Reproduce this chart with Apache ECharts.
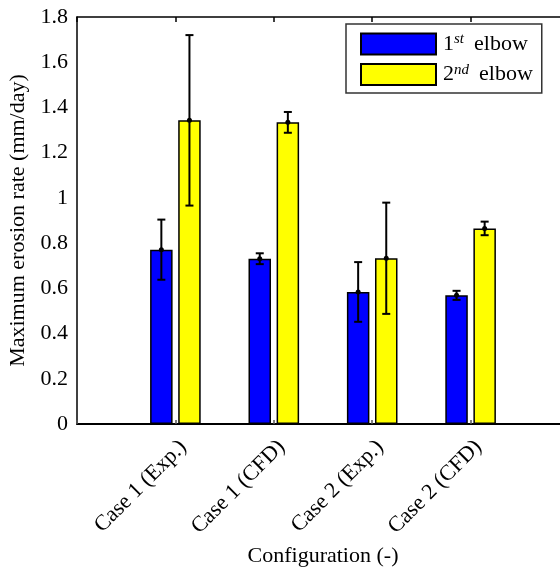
<!DOCTYPE html>
<html>
<head>
<meta charset="utf-8">
<script src="https://cdn.jsdelivr.net/npm/echarts@6/dist/echarts.min.js"></script>
<style>
  html, body { margin: 0; padding: 0; background: #fff; }
  #chart { width: 560px; height: 569px; }
</style>
</head>
<body>
<div id="chart"></div>
<script>
// data
const categories = ['Case 1 (Exp.)', 'Case 1 (CFD)', 'Case 2 (Exp.)', 'Case 2 (CFD)']
const elbow1 = [0.771, 0.731, 0.584, 0.569]
const elbow1Err = [0.133, 0.024, 0.132, 0.020]
const elbow2 = [1.343, 1.334, 0.733, 0.865]
const elbow2Err = [0.377, 0.046, 0.246, 0.030]
const seriesNames = ['1st elbow', '2nd elbow']
const yTicks = [0, 0.2, 0.4, 0.6, 0.8, 1, 1.2, 1.4, 1.6, 1.8]

const font = "'Liberation Serif', 'DejaVu Serif', serif"
const fs = 22
const barW = 22.5
const gap = 5.6

// pad one empty slot on each side so the categories sit at 1..4 of a 0..5 axis
const xCats = [''].concat(categories, [''])
const pad = arr => [null].concat(arr, [null])

const errData = (vals, errs) => vals.map((v, i) => [i + 1, v - errs[i], v + errs[i], v])

const errorSeries = (name, vals, errs, side) => ({
    type: 'custom',
    name: name,
    z: 10,
    data: errData(vals, errs),
    renderItem: (params, api) => {
        const idx = api.value(0)
        const lo = api.coord([idx, api.value(1)])
        const hi = api.coord([idx, api.value(2)])
        const mid = api.coord([idx, api.value(3)])
        const x = lo[0] + side * (barW + gap) / 2
        const cap = 4
        const st = { stroke: '#000', lineWidth: 2 }
        return {
            type: 'group',
            children: [
                { type: 'line', shape: { x1: x, y1: lo[1], x2: x, y2: hi[1] }, style: st },
                { type: 'line', shape: { x1: x - cap, y1: lo[1], x2: x + cap, y2: lo[1] }, style: st },
                { type: 'line', shape: { x1: x - cap, y1: hi[1], x2: x + cap, y2: hi[1] }, style: st },
                { type: 'circle', shape: { cx: x, cy: mid[1], r: 2.5 }, style: { fill: '#000' } }
            ]
        }
    }
})

const chart = echarts.init(document.getElementById('chart'))

const option = {
    backgroundColor: '#fff',
    animation: false,
    grid: { left: 77, top: 17, right: -9, bottom: 145, containLabel: false, outerBoundsMode: 'none' },
    legend: {
        data: seriesNames,
        orient: 'vertical',
        left: 346,
        top: 24,
        itemWidth: 75,
        itemHeight: 21,
        itemGap: 7,
        padding: [8, 9, 7, 14],
        borderColor: '#333',
        borderWidth: 1.5,
        backgroundColor: '#fff',
        icon: 'rect',
        formatter: name => name === seriesNames[0]
            ? '{b|1}{s|st}{e|elbow}'
            : '{b|2}{s|nd}{e|elbow}',
        textStyle: {
            color: '#000',
            fontFamily: font,
            fontSize: fs,
            padding: [0, 0, 0, 2],
            rich: {
                b: { fontFamily: font, fontSize: fs, color: '#000', lineHeight: 24 },
                s: { fontFamily: font, fontSize: 15, fontStyle: 'italic', color: '#000', verticalAlign: 'top', lineHeight: 24 },
                e: { fontFamily: font, fontSize: fs, color: '#000', lineHeight: 24, padding: [0, 0, 0, 10] }
            }
        }
    },
    xAxis: [
        {
            type: 'category',
            data: xCats,
            boundaryGap: false,
            name: 'Configuration (-)',
            nameLocation: 'middle',
            nameGap: 119,
            nameTextStyle: { fontFamily: font, fontSize: fs, color: '#000' },
            axisLine: { lineStyle: { color: '#000', width: 2 } },
            axisTick: { inside: true, length: 4, lineStyle: { color: '#555', width: 1.5 } },
            axisLabel: {
                rotate: 45,
                margin: 12,
                interval: 0,
                verticalAlign: 'top',
                fontFamily: font,
                fontSize: fs,
                color: '#000'
            },
            splitLine: { show: false }
        },
        {
            type: 'category',
            data: xCats,
            boundaryGap: false,
            position: 'top',
            axisLine: { lineStyle: { color: '#000', width: 1.5 } },
            axisTick: { inside: true, length: 5, lineStyle: { color: '#000', width: 1.5 } },
            axisLabel: { show: false },
            splitLine: { show: false }
        }
    ],
    yAxis: {
        type: 'value',
        min: 0,
        max: 1.8,
        interval: 0.2,
        name: 'Maximum erosion rate (mm/day)',
        nameLocation: 'middle',
        nameGap: 40,
        nameTextStyle: { fontFamily: font, fontSize: fs, color: '#000' },
        axisLine: { show: true, lineStyle: { color: '#000', width: 1.5 } },
        axisTick: { show: false },
        axisLabel: {
            margin: 9,
            fontFamily: font,
            fontSize: fs,
            color: '#000',
            formatter: v => {
                const t = yTicks.find(k => Math.abs(k - v) < 1e-6)
                return t === undefined ? '' : String(t)
            }
        },
        splitLine: { show: false }
    },
    series: [
        {
            type: 'bar',
            name: seriesNames[0],
            data: pad(elbow1),
            barWidth: barW,
            barGap: (gap / barW * 100) + '%',
            itemStyle: { color: '#0000ff', borderColor: '#000', borderWidth: 1.5 }
        },
        {
            type: 'bar',
            name: seriesNames[1],
            data: pad(elbow2),
            barWidth: barW,
            itemStyle: { color: '#ffff00', borderColor: '#000', borderWidth: 1.5 }
        },
        errorSeries('err1', elbow1, elbow1Err, -1),
        errorSeries('err2', elbow2, elbow2Err, 1)
    ]
}

chart.setOption(option)
</script>
</body>
</html>
